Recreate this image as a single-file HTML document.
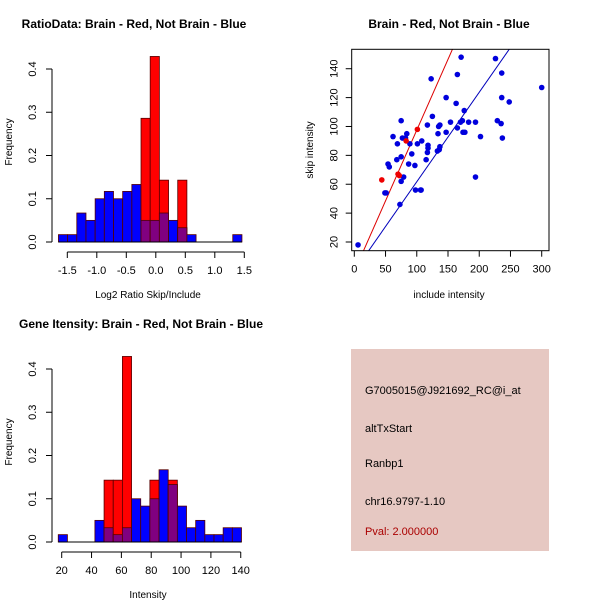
<!DOCTYPE html>
<html><head><meta charset="utf-8"><style>
html,body{margin:0;padding:0;background:#fff;}
svg{display:block;font-family:"Liberation Sans",sans-serif;}
</style></head><body>
<svg id="c" width="600" height="600"></svg>
<script>
// ---- Data ----
const ratioBinStart = -1.65, ratioBinWidth = 0.1555;
const ratioBlue = [0.017,0.017,0.067,0.05,0.1,0.117,0.1,0.117,0.133,0.05,0.05,0.067,0.05,0.033,0.017,0,0,0,0,0.017];
const ratioRed  = [0,0,0,0,0,0,0,0,0,0.286,0.429,0.143,0,0.143,0,0,0,0,0,0];
const ratioXTicks = [-1.5,-1.0,-0.5,0.0,0.5,1.0,1.5];
const freqTicks = [0.0,0.1,0.2,0.3,0.4];

const intBinStart = 17.7, intBinWidth = 6.14;
const intBlue = [0.017,0,0,0,0.05,0.033,0.017,0.033,0.1,0.083,0.1,0.167,0.133,0.083,0.033,0.05,0.017,0.017,0.033,0.033];
const intRed  = [0,0,0,0,0,0.143,0.143,0.429,0,0,0.143,0,0.143,0,0,0,0,0,0,0];
const intXTicks = [20,40,60,80,100,120,140];

const blueX = [6,51,49,54,56,62,68,69,75,75,77,82,84,89,87,92,97,98,106,101,108,107,73,75,79,115,117,118,118,117,123,125,133,134,135,137,137,136,147,147,154,163,165,165,171,170,173,174,176,177,183,194,194,202,226,229,235,236,236,237,248,300];
const blueY = [18,54,54,74,72,93,77,88,104,79,92,92,95,88,74,81,73,56,56,88,90,56,46,62,65,77,82,85,87,101,133,107,83,95,100,101,86,84,96,120,103,116,99,136,148,103,104,96,111,96,103,103,65,93,147,104,102,137,120,92,117,127];
const redX = [44,70,72,83,101];
const redY = [63,67,66,90,98];
const redLine = [0.98, -0.5];   // slope, intercept
const blueLine = [0.62, -0.3];
const scXTicks = [0,50,100,150,200,250,300];
const scYTicks = [20,40,60,80,100,120,140];

const svg = document.getElementById('c');
const NS = 'http://www.w3.org/2000/svg';
function mk(tag, attrs, parent){const e=document.createElementNS(NS,tag);for(const k in attrs)e.setAttribute(k,attrs[k]);(parent||svg).appendChild(e);return e;}
function txt(x,y,s,attrs){const t=mk('text',Object.assign({x:x,y:y,'font-size':11,fill:'#000'},attrs||{}));t.textContent=s;return t;}

function histogram(o){
  const g=mk('g',{});
  
  
  const sx=v=>o.x0+(v-o.d0)*o.kx, sy=v=>o.y0-v*o.ky;
  for(let i=0;i<o.blue.length;i++){
    const a=o.binStart+i*o.binW, b=a+o.binW;
    const x=sx(a), w=sx(b)-sx(a);
    const layers=[[o.blue[i],'#0000ff','blue'],[o.red[i],'#ff0000','red'],[Math.min(o.blue[i],o.red[i]),'#800080','overlap']];
    for(const [v,c,n] of layers){
      if(v<=0) continue;
      const r=mk('rect',{x:x,y:sy(v),width:w,height:sy(0)-sy(v),fill:c,stroke:'#550000','stroke-width':0.8},g);
      
      
    }
  }
  mk('line',{x1:sx(o.binStart),x2:sx(o.binStart+o.binW*o.blue.length),y1:sy(0),y2:sy(0),stroke:'#000'},g);
  const xa=mk('g',{},g);
  
  
  const ay=o.y0+10;
  mk('line',{x1:sx(o.xticks[0]),x2:sx(o.xticks[o.xticks.length-1]),y1:ay,y2:ay,stroke:'#000'},xa);
  o.xticks.forEach(t=>{mk('line',{x1:sx(t),x2:sx(t),y1:ay,y2:ay+6,stroke:'#000'},xa);
    const l=txt(sx(t),ay+22,o.fmtX(t),{'text-anchor':'middle'});xa.appendChild(l);});
  const ya=mk('g',{},g);
  
  
  const yx=52;
  mk('line',{x1:yx,x2:yx,y1:sy(0),y2:sy(0.4),stroke:'#000'},ya);
  freqTicks.forEach(t=>{mk('line',{x1:yx-6,x2:yx,y1:sy(t),y2:sy(t),stroke:'#000'},ya);
    const l=txt(yx-16,sy(t),t.toFixed(1),{'text-anchor':'middle',transform:'rotate(-90 '+(yx-16)+' '+sy(t)+')'});ya.appendChild(l);});
  const yt=txt(12,o.y0-100,'Frequency',{'text-anchor':'middle','font-size':10,transform:'rotate(-90 12 '+(o.y0-100)+')'});
  
  const xt=txt(148,o.y0+56,o.xlab,{'text-anchor':'middle','font-size':10});
  
  const tt=txt(o.titleX,o.y0-214,o.title,{'text-anchor':'middle','font-size':12,'font-weight':'bold'});
  
}

histogram({name:'ratio-histogram',x0:67.3,d0:-1.5,kx:59,y0:242,ky:432.5,binStart:ratioBinStart,binW:ratioBinWidth,blue:ratioBlue,red:ratioRed,xticks:ratioXTicks,fmtX:t=>t.toFixed(1),xlab:'Log2 Ratio Skip/Include',title:'RatioData: Brain - Red, Not Brain - Blue',titleX:134});
histogram({name:'intensity-histogram',x0:61.7,d0:20,kx:1.492,y0:542,ky:432.5,binStart:intBinStart,binW:intBinWidth,blue:intBlue,red:intRed,xticks:intXTicks,fmtX:t=>String(t),xlab:'Intensity',title:'Gene Itensity: Brain - Red, Not Brain - Blue',titleX:141});

(function(){
  const g=mk('g',{});
  
  
  const L=351.7,R=549,T=49.3,B=250.7;
  const sx=v=>354.3+v*0.6247, sy=v=>242-(v-20)*1.444;
  const clip=mk('clipPath',{id:'cp'},g);mk('rect',{x:L,y:T,width:R-L,height:B-T},clip);
  const pg=mk('g',{'clip-path':'url(#cp)'},g);
  [[redLine,'#dd0000','red-fit-line'],[blueLine,'#0000bb','blue-fit-line']].forEach(([p,c,n])=>{
    const l=mk('line',{x1:sx(-20),y1:sy(p[0]*-20+p[1]),x2:sx(320),y2:sy(p[0]*320+p[1]),stroke:c,'stroke-width':1},pg);
    
  });
  blueX.forEach((x,i)=>{const c=mk('circle',{cx:sx(x),cy:sy(blueY[i]),r:2.8,fill:'#0000dd'},pg);
    });
  redX.forEach((x,i)=>{const c=mk('circle',{cx:sx(x),cy:sy(redY[i]),r:2.8,fill:'#ee0000'},pg);
    });
  mk('rect',{x:L,y:T,width:R-L,height:B-T,fill:'none',stroke:'#000'},g);
  scXTicks.forEach(t=>{mk('line',{x1:sx(t),x2:sx(t),y1:B,y2:B+6,stroke:'#000'},g);txt(sx(t),B+22,String(t),{'text-anchor':'middle'});});
  scYTicks.forEach(t=>{mk('line',{x1:L-6,x2:L,y1:sy(t),y2:sy(t),stroke:'#000'},g);txt(L-14,sy(t),String(t),{'text-anchor':'middle',transform:'rotate(-90 '+(L-14)+' '+sy(t)+')'});});
  const xt=txt(449,298,'include intensity',{'text-anchor':'middle','font-size':10});
  
  const yt=txt(313,150,'skip intensity',{'text-anchor':'middle','font-size':10,transform:'rotate(-90 313 150)'});
  
  const tt=txt(449,28,'Brain - Red, Not Brain - Blue',{'text-anchor':'middle','font-size':12,'font-weight':'bold'});
  
})();
</script>
<div style="position:absolute;left:351px;top:349px;width:198px;height:202px;background:#e6c8c2;font-family:'Liberation Sans',sans-serif;font-size:11px;color:#000;">
  <div style="position:absolute;left:14px;top:36px;">G7005015@J921692_RC@i_at</div>
  <div style="position:absolute;left:14px;top:74px;">altTxStart</div>
  <div style="position:absolute;left:14px;top:109px;">Ranbp1</div>
  <div style="position:absolute;left:14px;top:147px;">chr16.9797-1.10</div>
  <div style="position:absolute;left:14px;top:177px;color:#aa0000;">Pval: 2.000000</div>
</div>
</body></html>
